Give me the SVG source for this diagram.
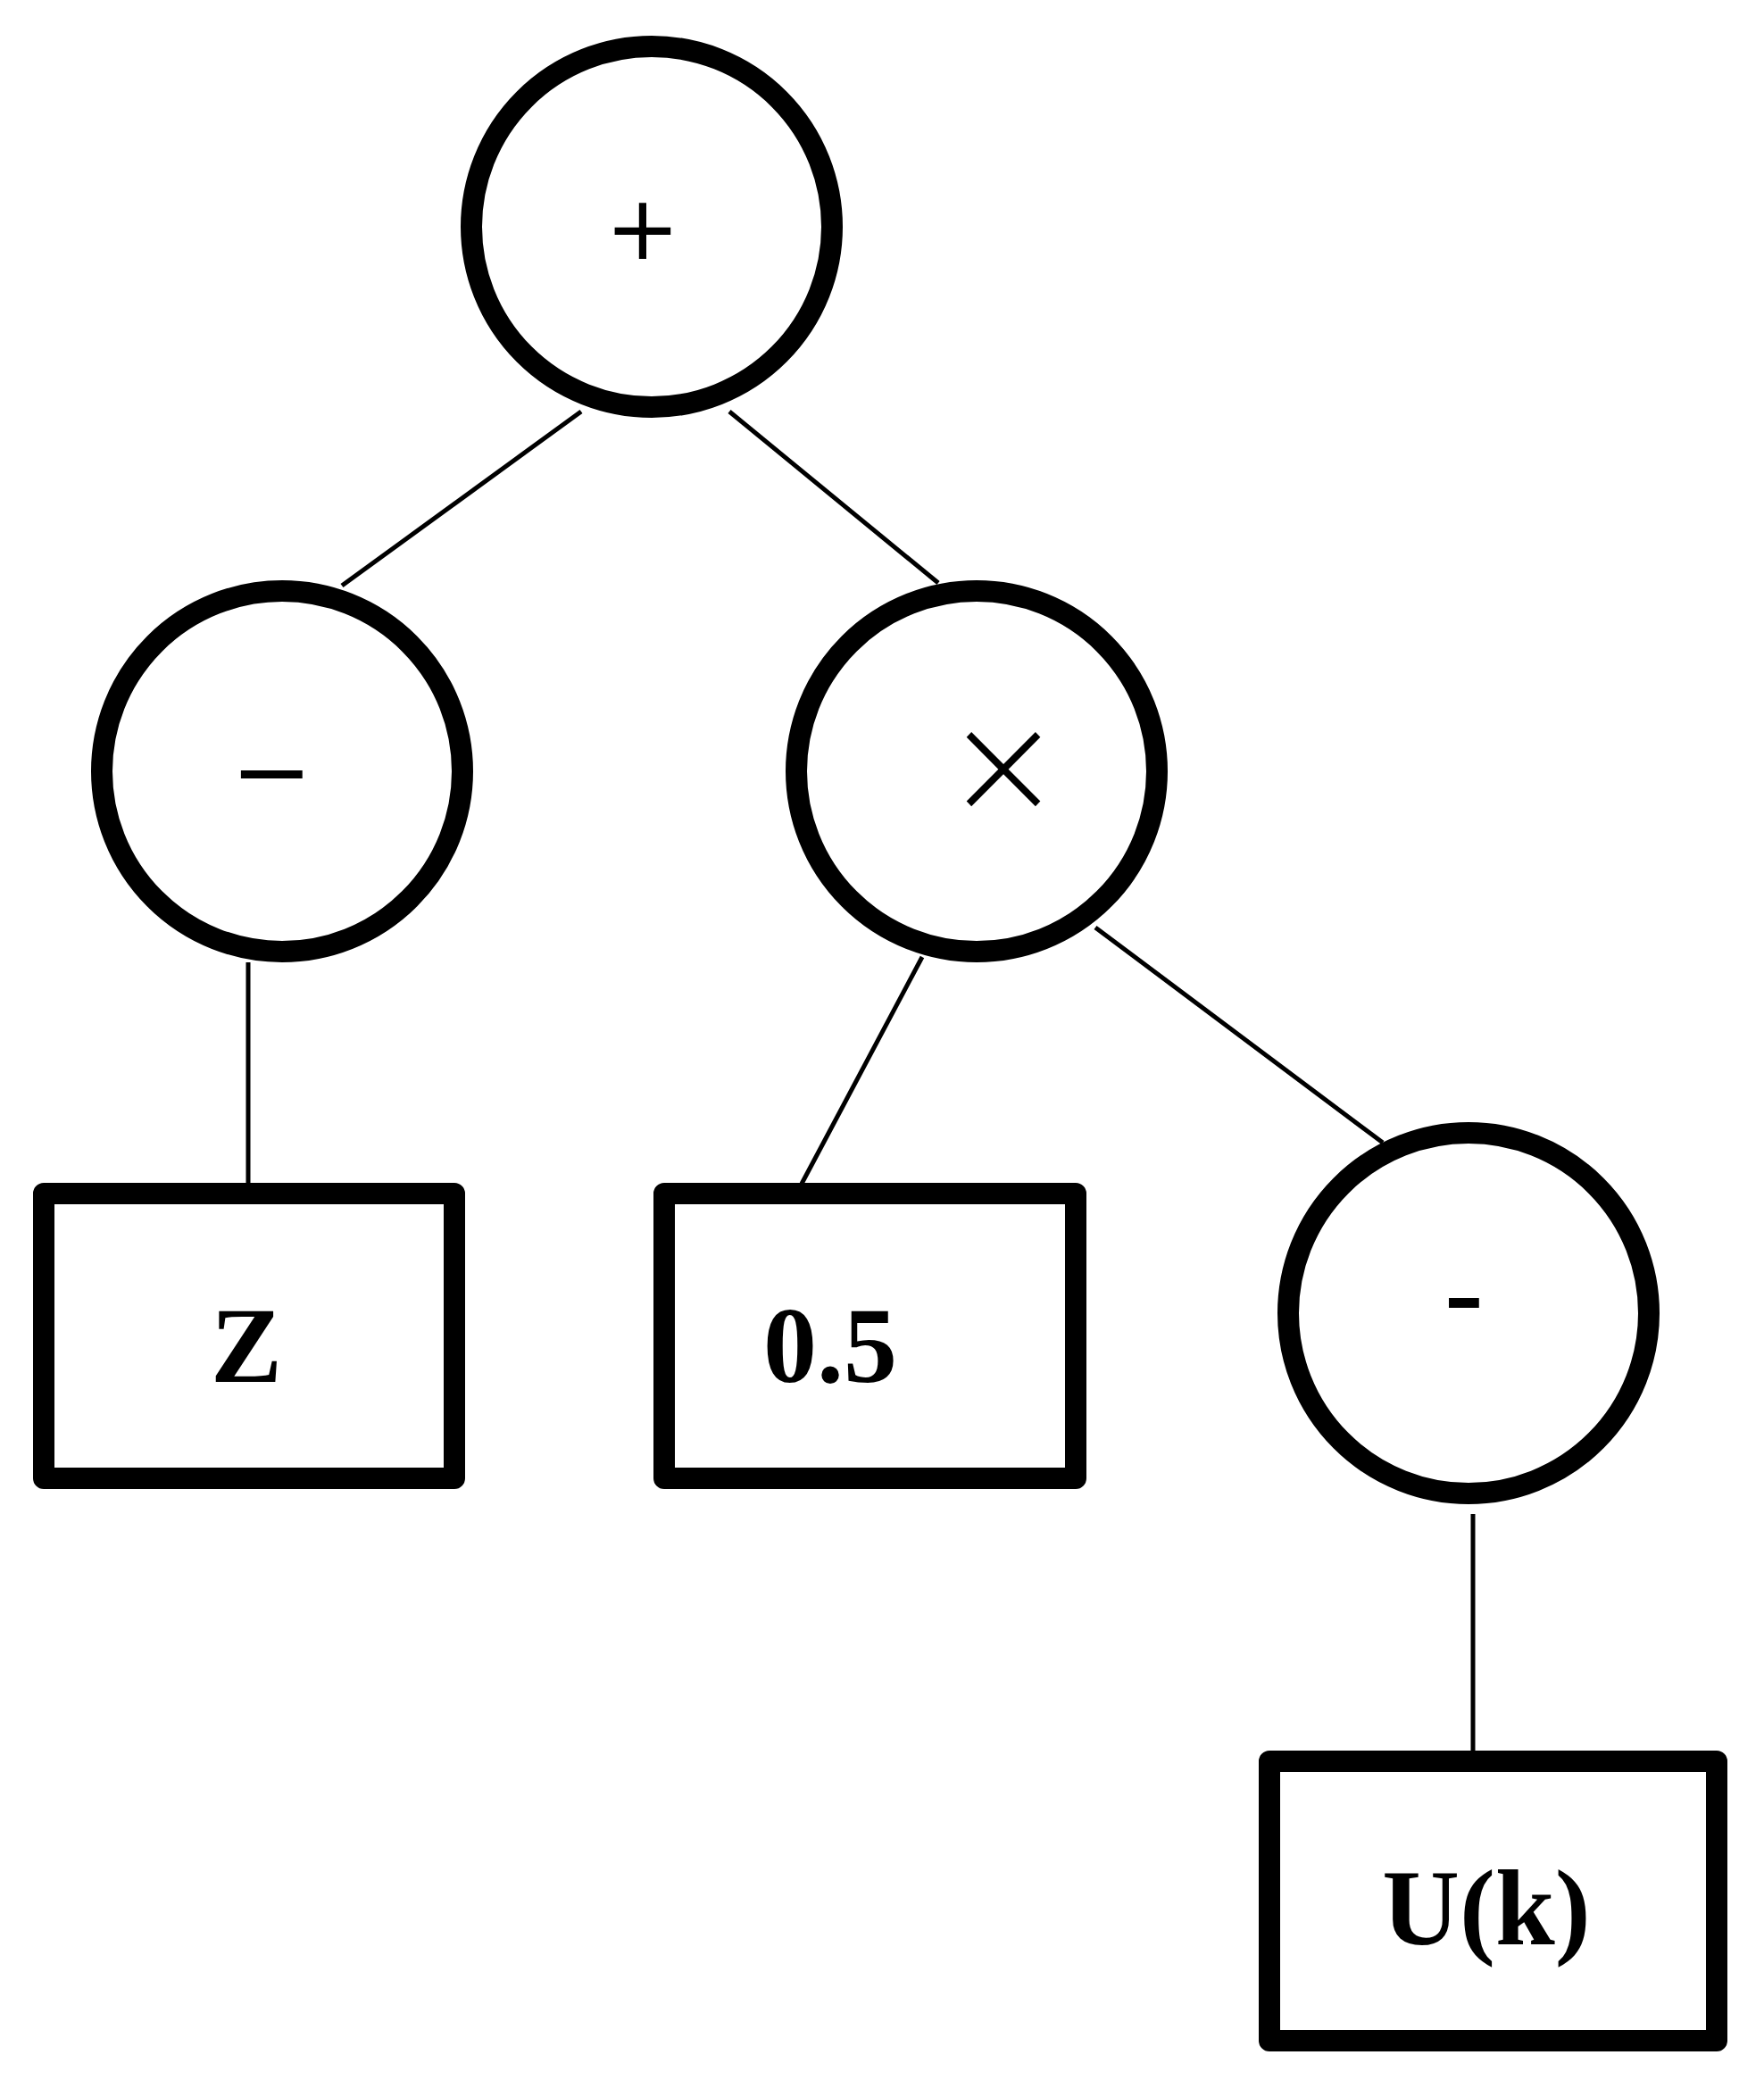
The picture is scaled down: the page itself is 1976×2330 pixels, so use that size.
<svg xmlns="http://www.w3.org/2000/svg" width="1976" height="2330" viewBox="0 0 1976 2330">
<style>
.c{fill:#fff;stroke:#000;stroke-width:24}
.b{fill:#fff;stroke:#000;stroke-width:24;stroke-linejoin:round}
.e{stroke:#000;stroke-width:5}
.t{font-family:"Liberation Serif",serif;font-weight:bold;text-anchor:middle;fill:#000}
.s{font-family:"DejaVu Sans",sans-serif;text-anchor:middle;fill:#000}
</style>
<rect width="1976" height="2330" fill="#fff"/>
<g id="edges">
<line class="e" x1="651" y1="461" x2="383" y2="656"/>
<line class="e" x1="817" y1="461" x2="1051" y2="653"/>
<line class="e" x1="278" y1="1078" x2="278" y2="1326"/>
<line class="e" x1="1033" y1="1072" x2="898" y2="1326"/>
<line class="e" x1="1227" y1="1039" x2="1549" y2="1280"/>
<line class="e" x1="1650" y1="1696" x2="1650" y2="1961"/>
</g>
<g id="plus"><circle class="c" cx="730" cy="254" r="202"/><text class="s" x="720" y="290" font-size="100">+</text></g>
<g id="minus1"><circle class="c" cx="316" cy="864" r="202"/><text class="s" x="304" y="902" font-size="110">−</text></g>
<g id="times"><circle class="c" cx="1094" cy="864" r="202"/><text class="s" x="1124" y="912" font-size="160" font-weight="200">×</text></g>
<g id="minus2"><circle class="c" cx="1645" cy="1471" r="202"/><text class="t" x="1640" y="1490" font-size="130">-</text></g>
<g id="z"><rect class="b" x="49" y="1337" width="460" height="319"/><text class="t" x="276" y="1548" font-size="120">Z</text></g>
<g id="half"><rect class="b" x="744" y="1337" width="461" height="319"/><text class="t" x="930" y="1548" font-size="120">0.5</text></g>
<g id="uk"><rect class="b" x="1422" y="1973" width="501" height="313"/><text class="t" x="1665" y="2178" font-size="120">U(k)</text></g>
</svg>
